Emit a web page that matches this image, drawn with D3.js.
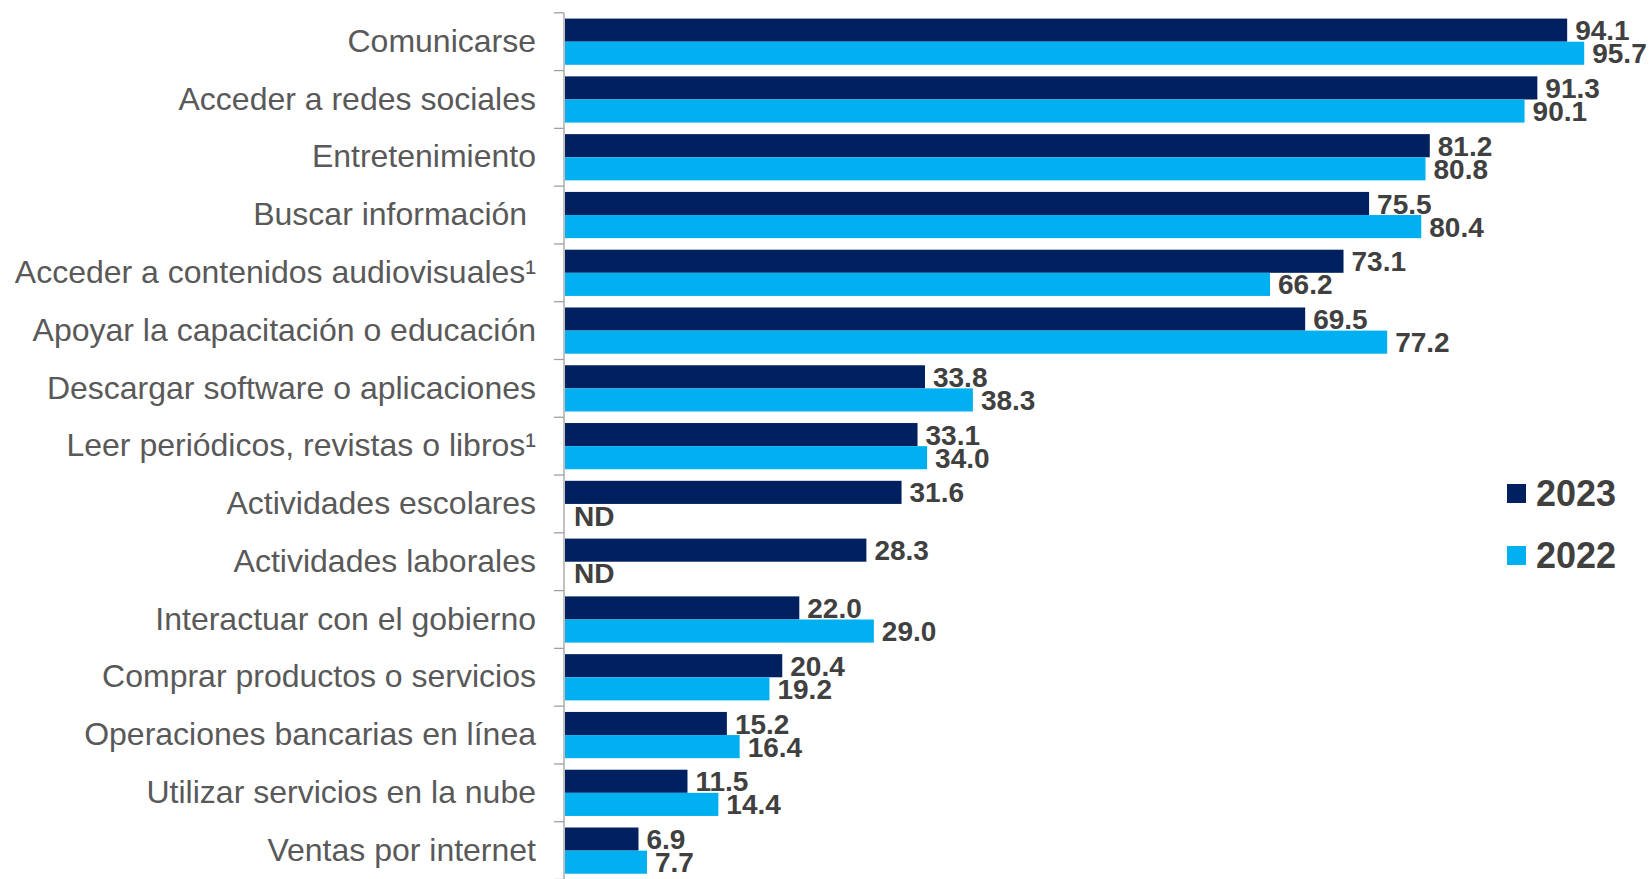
<!DOCTYPE html>
<html>
<head>
<meta charset="utf-8">
<script src="https://cdn.jsdelivr.net/npm/d3@7"></script>
<style>
  body { margin: 0; background: #fff; }
  svg { display: block; }
</style>
</head>
<body>
<div id="chart"></div>
<script>
// categorias (de arriba hacia abajo)
var categorias = ["Comunicarse", "Acceder a redes sociales", "Entretenimiento", "Buscar información ",
  "Acceder a contenidos audiovisuales¹", "Apoyar la capacitación o educación",
  "Descargar software o aplicaciones", "Leer periódicos, revistas o libros¹",
  "Actividades escolares", "Actividades laborales", "Interactuar con el gobierno",
  "Comprar productos o servicios", "Operaciones bancarias en línea",
  "Utilizar servicios en la nube", "Ventas por internet"];

var anios = ["2023", "2022"];
var valores2023 = [94.1, 91.3, 81.2, 75.5, 73.1, 69.5, 33.8, 33.1, 31.6, 28.3, 22.0, 20.4, 15.2, 11.5, 6.9];
var valores2022 = [95.7, 90.1, 80.8, 80.4, 66.2, 77.2, 38.3, 34.0, null, null, 29.0, 19.2, 16.4, 14.4, 7.7];

var colores = {"2023": "#002060", "2022": "#00B0F0"};

var w = 1652, h = 879;
var x0 = 565, yTop = 12.8, yBottom = 879.5;

var svg = d3.select("#chart").append("svg")
  .attr("width", w)
  .attr("height", h);

var xScale = d3.scaleLinear().domain([0, 100]).range([x0, x0 + 1065]);

var yScale = d3.scaleBand().domain(categorias).range([yTop, yBottom]).padding(0);

var ySub = d3.scaleBand().domain(anios).range([0, yScale.bandwidth()])
  .paddingInner(0).paddingOuter(0.25);

var datos = [];
categorias.forEach(function(c, i) {
  datos.push({cat: c, anio: "2023", v: valores2023[i]});
  datos.push({cat: c, anio: "2022", v: valores2022[i]});
});

// barras
svg.append("g").selectAll("rect")
  .data(datos.filter(function(d) { return d.v != null; }))
  .enter()
  .append("rect")
  .attr("x", xScale(0))
  .attr("y", function(d) { return yScale(d.cat) + ySub(d.anio); })
  .attr("width", function(d) { return xScale(d.v) - xScale(0); })
  .attr("height", ySub.bandwidth())
  .attr("fill", function(d) { return colores[d.anio]; });

// eje vertical con marcas entre categorias
var ejeG = svg.append("g").attr("stroke", "#A0A0A0").attr("stroke-width", 1.3);
ejeG.append("line")
  .attr("x1", xScale(0) - 1).attr("x2", xScale(0) - 1)
  .attr("y1", yTop).attr("y2", h);
var bordes = categorias.map(function(c) { return yScale(c); }).concat([yBottom]);
ejeG.selectAll("line.tick")
  .data(bordes)
  .enter()
  .append("line")
  .attr("class", "tick")
  .attr("x1", xScale(0) - 11).attr("x2", xScale(0) - 1)
  .attr("y1", function(d) { return d; })
  .attr("y2", function(d) { return d; });

// etiquetas de categorias
svg.append("g").selectAll("text")
  .data(categorias)
  .enter()
  .append("text")
  .attr("x", xScale(0) - 29)
  .attr("y", function(d) { return yScale(d) + yScale.bandwidth() / 2 - 1; })
  .attr("dy", "0.35em")
  .attr("text-anchor", "end")
  .style("white-space", "pre")
  .attr("font-family", "Arial, 'Liberation Sans', sans-serif")
  .attr("font-size", "32px")
  .attr("fill", "#595959")
  .text(function(d) { return d; });

// etiquetas de valores
svg.append("g").selectAll("text")
  .data(datos)
  .enter()
  .append("text")
  .attr("x", function(d) { return d.v == null ? xScale(0) + 9 : xScale(d.v) + 8; })
  .attr("y", function(d) { return yScale(d.cat) + ySub(d.anio) + ySub.bandwidth() / 2; })
  .attr("dy", "0.36em")
  .attr("font-family", "Arial, 'Liberation Sans', sans-serif")
  .attr("font-weight", "bold")
  .attr("font-size", "28px")
  .attr("fill", "#404040")
  .text(function(d) { return d.v == null ? "ND" : d3.format(".1f")(d.v); });

// leyenda
var leyenda = svg.append("g").selectAll("g")
  .data(anios)
  .enter()
  .append("g")
  .attr("transform", function(d, i) { return "translate(1507," + (484 + i * 62) + ")"; });

leyenda.append("rect")
  .attr("width", 19)
  .attr("height", 19)
  .attr("fill", function(d) { return colores[d]; });

leyenda.append("text")
  .attr("x", 29)
  .attr("y", 9.5)
  .attr("dy", "0.36em")
  .attr("font-family", "Arial, 'Liberation Sans', sans-serif")
  .attr("font-weight", "bold")
  .attr("font-size", "36px")
  .attr("fill", "#404040")
  .text(function(d) { return d; });
</script>
</body>
</html>
